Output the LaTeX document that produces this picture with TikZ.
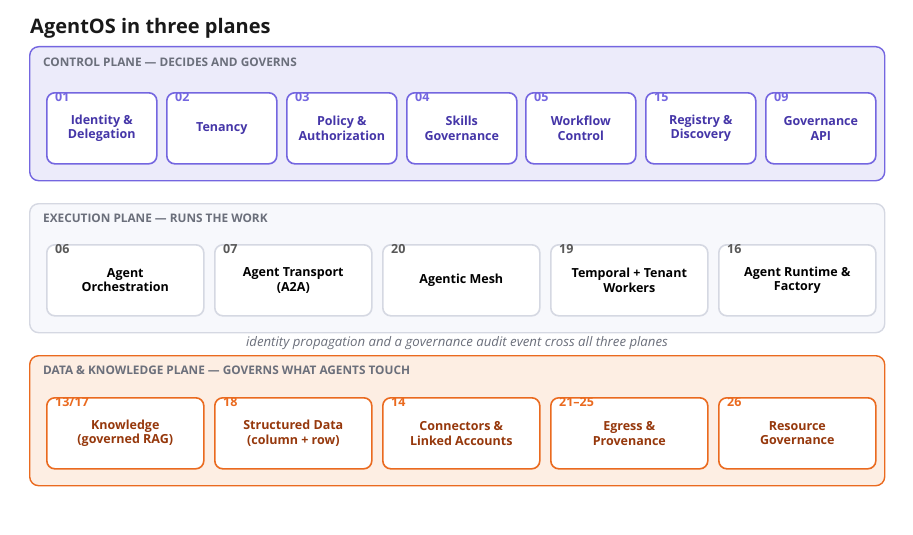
\documentclass[tikz,border=0pt]{standalone}
\usepackage{fontspec}
\setmainfont{Open Sans}
\definecolor{ctlline}{HTML}{7466E0}
\definecolor{ctlfill}{HTML}{ECEBFA}
\definecolor{ctltext}{HTML}{4536A8}
\definecolor{exeline}{HTML}{D5D8E2}
\definecolor{exefill}{HTML}{F7F8FC}
\definecolor{datline}{HTML}{EA6A1F}
\definecolor{datfill}{HTML}{FDEEE3}
\definecolor{dattext}{HTML}{96380C}
\definecolor{labgrey}{HTML}{6B6F7B}
\tikzset{
  plane/.style={rounded corners=9pt, line width=1.4pt, anchor=north west, minimum width=855pt, inner sep=0pt},
  card/.style={rounded corners=8pt, line width=1.6pt, fill=white, anchor=north west, minimum height=71pt, align=center, font=\fontsize{12.5}{14.5}\selectfont\bfseries},
  num/.style={anchor=north west, inner sep=0pt, font=\fontsize{12.5}{13}\selectfont\bfseries},
  planelab/.style={anchor=west, inner sep=0pt, text=labgrey, font=\fontsize{11.8}{12}\selectfont\bfseries}
}
\begin{document}
\begin{tikzpicture}[x=1pt,y=-1pt]
				\useasboundingbox (0,0) rectangle (913,535);
				\node[anchor=west, inner sep=0pt, font=\fontsize{20}{22}\selectfont\bfseries, text=black!90] (title) at (30,28) {AgentOS in three planes};
				
				% control plane
				\node[plane, draw=ctlline, fill=ctlfill, minimum height=134pt] (ctl) at (29,46) {};
				\node[planelab] (ctllab) at (43,62) {CONTROL PLANE — DECIDES AND GOVERNS};
				\node[card, draw=ctlline, text=ctltext, minimum width=110pt] (c1) at (46,92) {Identity \&\\Delegation};
				\node[card, draw=ctlline, text=ctltext, minimum width=110pt] (c2) at (166,92) {Tenancy};
				\node[card, draw=ctlline, text=ctltext, minimum width=110pt] (c3) at (286,92) {Policy \&\\Authorization};
				\node[card, draw=ctlline, text=ctltext, minimum width=110pt] (c4) at (406,92) {Skills\\Governance};
				\node[card, draw=ctlline, text=ctltext, minimum width=110pt] (c5) at (525,92) {Workflow\\Control};
				\node[card, draw=ctlline, text=ctltext, minimum width=110pt] (c6) at (645,92) {Registry \&\\Discovery};
				\node[card, draw=ctlline, text=ctltext, minimum width=110pt] (c7) at (765,92) {Governance\\API};
				\node[num, text=ctlline] (n1) at (55,92) {01};
				\node[num, text=ctlline] (n2) at (175,92) {02};
				\node[num, text=ctlline] (n3) at (295,92) {03};
				\node[num, text=ctlline] (n4) at (415,92) {04};
				\node[num, text=ctlline] (n5) at (534,92) {05};
				\node[num, text=ctlline] (n6) at (654,92) {15};
				\node[num, text=ctlline] (n7) at (774,92) {09};
				
				% execution plane
				\node[plane, draw=exeline, fill=exefill, minimum height=129pt] (exe) at (29,203) {};
				\node[planelab] (exelab) at (43,218) {EXECUTION PLANE — RUNS THE WORK};
				\node[card, draw=exeline, text=black, minimum width=157pt] (e1) at (46,244) {Agent\\Orchestration};
				\node[card, draw=exeline, text=black, minimum width=157pt] (e2) at (214,244) {Agent Transport\\(A2A)};
				\node[card, draw=exeline, text=black, minimum width=157pt] (e3) at (382,244) {Agentic Mesh};
				\node[card, draw=exeline, text=black, minimum width=157pt] (e4) at (550,244) {Temporal + Tenant\\Workers};
				\node[card, draw=exeline, text=black, minimum width=157pt] (e5) at (718,244) {Agent Runtime \&\\Factory};
				\node[num, text=black!65] (m1) at (55,244) {06};
				\node[num, text=black!65] (m2) at (223,244) {07};
				\node[num, text=black!65] (m3) at (391,244) {20};
				\node[num, text=black!65] (m4) at (559,244) {19};
				\node[num, text=black!65] (m5) at (727,244) {16};
				
				\node[inner sep=0pt, text=labgrey, font=\fontsize{13.2}{14}\selectfont\itshape] (cross) at (457,343) {identity propagation and a governance audit event cross all three planes};
				
				% data and knowledge plane
				\node[plane, draw=datline, fill=datfill, minimum height=130pt] (dat) at (29,355) {};
				\node[planelab] (datlab) at (43,370) {DATA \& KNOWLEDGE PLANE — GOVERNS WHAT AGENTS TOUCH};
				\node[card, draw=datline, text=dattext, minimum width=157pt] (d1) at (46,397) {Knowledge\\(governed RAG)};
				\node[card, draw=datline, text=dattext, minimum width=157pt] (d2) at (214,397) {Structured Data\\(column + row)};
				\node[card, draw=datline, text=dattext, minimum width=157pt] (d3) at (382,397) {Connectors \&\\Linked Accounts};
				\node[card, draw=datline, text=dattext, minimum width=157pt] (d4) at (550,397) {Egress \&\\Provenance};
				\node[card, draw=datline, text=dattext, minimum width=157pt] (d5) at (718,397) {Resource\\Governance};
				\node[num, text=datline] (k1) at (55,397) {13/17};
				\node[num, text=datline] (k2) at (223,397) {18};
				\node[num, text=datline] (k3) at (391,397) {14};
				\node[num, text=datline] (k4) at (559,397) {21–25};
				\node[num, text=datline] (k5) at (727,397) {26};
			\end{tikzpicture}
\end{document}
